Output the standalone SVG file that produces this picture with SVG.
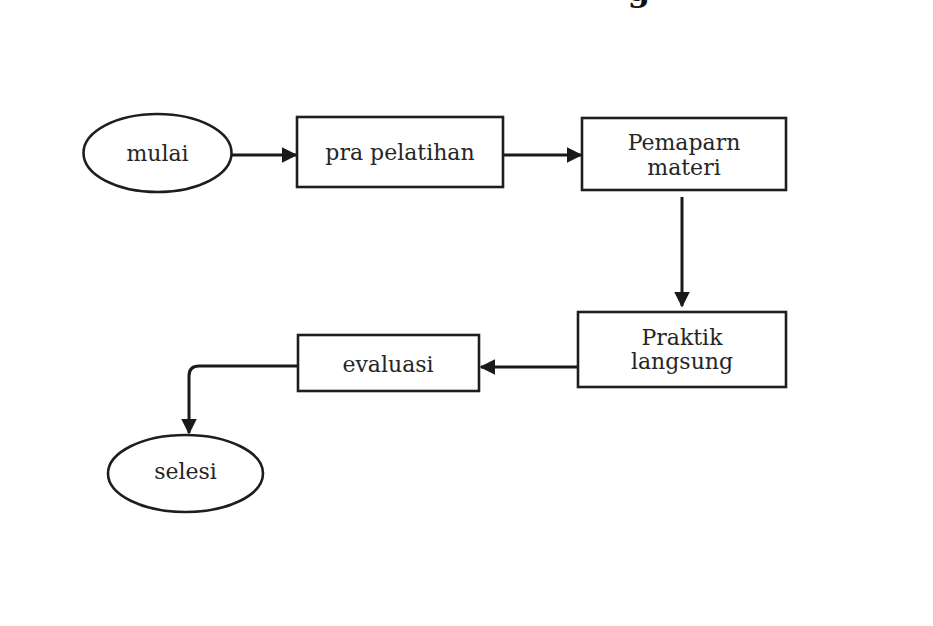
<svg xmlns="http://www.w3.org/2000/svg" width="933" height="626" viewBox="0 0 933 626">
<style>
.n{fill:#fff;stroke:#1e1e1e;stroke-width:2.6}
.t{font-family:"DejaVu Serif","Liberation Serif",serif;font-size:22px;fill:#262626;text-anchor:middle}
.c{fill:none;stroke:#1a1a1a;stroke-width:3}
</style>
<defs>
<marker id="ah" viewBox="0 0 10 10" refX="9" refY="5" markerWidth="5.2" markerHeight="5.2" orient="auto" markerUnits="strokeWidth">
<path d="M0,0 L10,5 L0,10 Z" fill="#1a1a1a"/>
</marker>
</defs>
<rect width="933" height="626" fill="#fff"/>
<text x="639" y="1" font-family="DejaVu Serif,serif" font-weight="bold" font-size="32" fill="#111" text-anchor="middle">g</text>
<g id="connectors">
<line class="c" x1="232" y1="155" x2="296" y2="155" marker-end="url(#ah)"/>
<line class="c" x1="503" y1="155" x2="581" y2="155" marker-end="url(#ah)"/>
<line class="c" x1="682" y1="197" x2="682" y2="306" marker-end="url(#ah)"/>
<line class="c" x1="578" y1="367" x2="481" y2="367" marker-end="url(#ah)"/>
<path class="c" d="M298,366 H199 Q189,366 189,376 V433" marker-end="url(#ah)"/>
</g>
<g id="mulai">
<ellipse class="n" cx="157.5" cy="153" rx="74" ry="39"/>
<text class="t" x="157.5" y="161">mulai</text>
</g>
<g id="pra-pelatihan">
<rect class="n" x="297" y="117" width="206" height="70"/>
<text class="t" x="400" y="160">pra pelatihan</text>
</g>
<g id="pemaparn-materi">
<rect class="n" x="582" y="118" width="204" height="72"/>
<text class="t" x="684" y="150">Pemaparn</text>
<text class="t" x="684" y="175">materi</text>
</g>
<g id="praktik-langsung">
<rect class="n" x="578" y="312" width="208" height="75"/>
<text class="t" x="682" y="345">Praktik</text>
<text class="t" x="682" y="369">langsung</text>
</g>
<g id="evaluasi">
<rect class="n" x="298" y="335" width="181" height="56"/>
<text class="t" x="388" y="372">evaluasi</text>
</g>
<g id="selesi">
<ellipse class="n" cx="185.5" cy="473.5" rx="77.5" ry="38.5"/>
<text class="t" x="185.5" y="479">selesi</text>
</g>
</svg>
